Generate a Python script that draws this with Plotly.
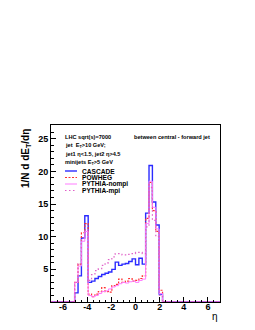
import numpy as np
import plotly.graph_objects as go

# histogram binning: 50 bins from -7 to 7
eta_min, eta_max, n_bins = -7.0, 7.0, 50
first_bin = 7  # index of first non-empty bin

cascade = [1.4, 4.0, 9.8, 13.2,
           3.0, 3.2, 3.6, 3.9, 4.2, 4.4, 4.6, 5.0, 6.1, 5.6, 5.8, 5.9, 6.2, 6.6, 5.7, 6.7, 5.8,
           13.6, 20.9, 15.3, 11.8, 1.2]
powheg = [3.0, 5.8, 10.6, 12.0,
          1.2, 0.8, 1.2, 1.6, 2.2, 1.6, 1.5, 2.5, 2.7, 3.5, 3.0, 3.2, 3.6, 3.2, 3.3, 3.6, 4.0,
          12.8, 18.3, 14.0, 10.8, 1.8]
pythia_nompi = [3.0, 5.5, 9.3, 10.8,
                1.0, 0.8, 1.0, 1.3, 1.6, 1.7, 2.0, 2.3, 2.5, 2.8, 3.0, 2.9, 3.1, 3.2, 3.0, 3.3, 3.5,
                12.0, 18.5, 14.5, 11.2, 1.3]
pythia_mpi = [3.0, 5.8, 9.8, 11.0,
              3.3, 4.2, 4.8, 5.1, 5.6, 6.0, 6.5, 6.9, 7.4, 7.4, 7.2, 7.2, 7.3, 7.4, 7.6, 7.6, 7.4,
              11.5, 17.5, 12.5, 10.0, 1.0]

series_names = ["CASCADE", "POWHEG", "PYTHIA-nompi", "PYTHIA-mpi"]
series_values = [cascade, powheg, pythia_nompi, pythia_mpi]
series_colors = ["#2b2bff", "#ff3030", "#ff7cff", "#e060c8"]
series_dash = ["solid", "2px,1.5px", "solid", "1.5px,2.5px"]
series_width = [1.4, 1.2, 1.0, 1.2]

x_ticks = [-6, -4, -2, 0, 2, 4, 6]
y_ticks = [5, 10, 15, 20, 25]

edges = np.linspace(eta_min, eta_max, n_bins + 1)


def full_hist(vals):
    h = np.zeros(n_bins)
    h[first_bin:first_bin + len(vals)] = vals
    return h


fig = go.Figure()
for name, vals, col, dash, w in zip(series_names, series_values, series_colors,
                                     series_dash, series_width):
    h = full_hist(vals)
    ys = np.append(h, h[-1])
    fig.add_trace(go.Scatter(x=edges, y=ys, mode="lines", line_shape="hv",
                             line=dict(color=col, width=w, dash=dash),
                             name=name, showlegend=False))

FONT = "Liberation Sans"

# plot area geometry (pixels)
W, H = 255, 330
L, R, T, B = 43, 43, 117, 36
pw, ph = W - L - R, H - T - B


def px(x):
    return (x - L) / pw


def py(y):
    return (H - B - y) / ph


annotations = []
info_lines = ["LHC sqrt(s)=7000", "jet  E<sub>T</sub>>10 GeV;",
              "jet1 η<1.5, jet2 η>4.5", "minijets E<sub>T</sub>>5 GeV"]
for i, t in enumerate(info_lines):
    annotations.append(dict(x=px(55), y=py(129 + i * 8.6), xref="paper", yref="paper",
                            text="<b>" + t + "</b>", showarrow=False, xanchor="left",
                            yanchor="middle", font=dict(family=FONT, size=5.6, color="black")))
annotations.append(dict(x=px(204), y=py(129), xref="paper", yref="paper",
                        text="<b>between central - forward jet</b>", showarrow=False,
                        xanchor="right", yanchor="middle",
                        font=dict(family=FONT, size=5.6, color="black")))

shapes = []
for i, (name, col, dash, w) in enumerate(zip(series_names, series_colors, series_dash, series_width)):
    yy = 163 + i * 6.5
    shapes.append(dict(type="line", xref="paper", yref="paper", x0=px(57), x1=px(69),
                       y0=py(yy), y1=py(yy), line=dict(color=col, width=w, dash=dash)))
    annotations.append(dict(x=px(72), y=py(yy), xref="paper", yref="paper",
                            text="<b>" + name + "</b>", showarrow=False, xanchor="left",
                            yanchor="middle", font=dict(family=FONT, size=6.6, color="black")))

# axis titles
annotations.append(dict(x=px(18), y=py(119.5), xref="paper", yref="paper",
                        text="<b>1/N d dE<sub>T</sub>/dη</b>", textangle=-90, showarrow=False,
                        xanchor="center", yanchor="top",
                        font=dict(family=FONT, size=10, color="black")))
annotations.append(dict(x=px(212), y=py(308), xref="paper", yref="paper",
                        text="η", showarrow=False, xanchor="right", yanchor="middle",
                        font=dict(family=FONT, size=10, color="black")))

fig.update_layout(
    width=W, height=H,
    margin=dict(l=L, r=R, t=T, b=B),
    paper_bgcolor="white", plot_bgcolor="white",
    showlegend=False,
    annotations=annotations, shapes=shapes,
    font=dict(family=FONT, color="black"),
)
fig.update_xaxes(range=[eta_min, eta_max], tickvals=x_ticks,
                 ticktext=["<b>%d</b>" % v for v in x_ticks],
                 ticks="inside", ticklen=5, tickwidth=1, tickcolor="black",
                 ticklabelstandoff=-4,
                 minor=dict(ticks="inside", ticklen=2.5, dtick=0.5, tickcolor="black"),
                 showline=True, linecolor="black", linewidth=1, mirror=True,
                 showgrid=False, zeroline=False,
                 tickfont=dict(family=FONT, size=9, color="black"))
fig.update_yaxes(range=[0, 27.1], tickvals=y_ticks,
                 ticktext=["<b>%d</b>" % v for v in y_ticks],
                 ticks="inside", ticklen=5, tickwidth=1, tickcolor="black",
                 minor=dict(ticks="inside", ticklen=2.5, dtick=1, tickcolor="black"),
                 showline=True, linecolor="black", linewidth=1, mirror=True,
                 showgrid=False, zeroline=False,
                 tickfont=dict(family=FONT, size=9, color="black"))

fig.write_html("out.html")
